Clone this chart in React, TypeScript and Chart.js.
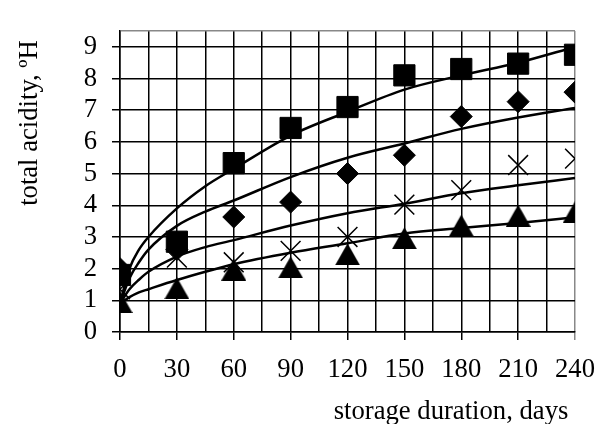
import React, { useEffect, useRef } from "react";
import { Chart, registerables } from "chart.js";

Chart.register(...registerables);

// ---- data ----
const days = [0, 30, 60, 90, 120, 150, 180, 210, 240];
const squareValues = [1.8, 2.85, 5.33, 6.44, 7.1, 8.1, 8.3, 8.47, 8.75];
const diamondValues = [2.0, 2.6, 3.63, 4.1, 5.0, 5.58, 6.8, 7.27, 7.57];
const crossValues = [1.35, 2.35, 2.2, 2.56, 3.0, 4.02, 4.48, 5.27, 5.47];
const triangleValues = [0.95, 1.38, 1.97, 2.04, 2.45, 2.96, 3.36, 3.67, 3.78];

const trendDays = [0, 5, 10, 15, 30, 45, 60, 90, 120, 150, 180, 210, 240];
const trendSquare = [0.9, 2.0, 2.6, 3.0, 3.9, 4.6, 5.15, 6.2, 6.95, 7.65, 8.1, 8.5, 9.0];
const trendDiamond = [0.9, 1.7, 2.2, 2.6, 3.35, 3.8, 4.15, 4.89, 5.5, 5.95, 6.41, 6.77, 7.07];
const trendCross = [0.9, 1.35, 1.65, 1.9, 2.38, 2.68, 2.9, 3.36, 3.75, 4.05, 4.38, 4.63, 4.86];
const trendTriangle = [0.9, 1.1, 1.25, 1.35, 1.64, 1.9, 2.14, 2.5, 2.8, 3.11, 3.28, 3.44, 3.62];

const xTicks = [0, 15, 30, 45, 60, 75, 90, 105, 120, 135, 150, 165, 180, 195, 210, 225, 240];
const xLabelStep = 30;
const yTicks = [0, 1, 2, 3, 4, 5, 6, 7, 8, 9];
const yMax = 9.5;
const xMax = 240;
const xTitle = "storage duration, days";
const yTitle = "total acidity, ºH";

const FONT = '"Liberation Serif", "Times New Roman", serif';
const FONT_SIZE = 26.67;

const pts = (xs: number[], ys: number[]) => xs.map((x, i) => ({ x, y: ys[i] }));

export default function App() {
  const ref = useRef<HTMLCanvasElement | null>(null);

  useEffect(() => {
    if (!ref.current) return;

    const tri = document.createElement("canvas");
    tri.width = 25;
    tri.height = 22;
    const tc = tri.getContext("2d")!;
    tc.fillStyle = "#000";
    tc.beginPath();
    tc.moveTo(12.5, 0);
    tc.lineTo(25, 22);
    tc.lineTo(0, 22);
    tc.closePath();
    tc.fill();

    const titlePlugin = {
      id: "axisTitles",
      afterDraw(chart: any) {
        const { ctx, chartArea } = chart;
        ctx.save();
        ctx.font = `${FONT_SIZE}px ${FONT}`;
        ctx.fillStyle = "#000";
        ctx.textAlign = "center";
        ctx.textBaseline = "middle";
        ctx.fillText(xTitle, chartArea.right - 124, chartArea.bottom + 80);
        ctx.translate(30, chartArea.top + 92);
        ctx.rotate(-Math.PI / 2);
        ctx.fillText(yTitle, 0, 0);
        ctx.restore();
      },
    };

    const markerBase = { showLine: false, backgroundColor: "#000", borderColor: "#000" };
    const lineBase = {
      showLine: true,
      pointRadius: 0,
      borderColor: "#000",
      borderWidth: 2.5,
      fill: false,
      cubicInterpolationMode: "monotone" as const,
    };

    const chart = new Chart(ref.current, {
      type: "scatter",
      data: {
        datasets: [
          { ...markerBase, data: pts(days, squareValues), pointStyle: "rect", pointRadius: 15, borderWidth: 1 },
          { ...markerBase, data: pts(days, diamondValues), pointStyle: "rectRot", pointRadius: 11, borderWidth: 1 },
          { ...markerBase, data: pts(days, crossValues), pointStyle: "crossRot", pointRadius: 14, borderWidth: 1.5 },
          { ...markerBase, data: pts(days, triangleValues), pointStyle: tri as any, pointRadius: 12, borderWidth: 0 },
          { ...lineBase, data: pts(trendDays, trendSquare) },
          { ...lineBase, data: pts(trendDays, trendDiamond) },
          { ...lineBase, data: pts(trendDays, trendCross) },
          { ...lineBase, data: pts(trendDays, trendTriangle) },
        ] as any,
      },
      options: {
        animation: false,
        responsive: false,
        events: [],
        layout: { padding: { top: 22, right: 30, left: 0, bottom: 0 } },
        plugins: { legend: { display: false }, tooltip: { enabled: false } },
        scales: {
          x: {
            type: "linear",
            min: 0,
            max: xMax,
            afterBuildTicks: (scale: any) => {
              scale.ticks = xTicks.map((v) => ({ value: v }));
            },
            afterFit: (scale: any) => {
              scale.height = 92;
            },
            ticks: {
              autoSkip: false,
              maxRotation: 0,
              padding: 14,
              color: "#000",
              font: { family: FONT, size: FONT_SIZE },
              callback: (v: any) => (Number(v) % xLabelStep === 0 ? String(v) : ""),
            },
            grid: {
              lineWidth: 1.5,
              tickLength: 8,
              color: (c: any) => (c.tick && c.tick.value === xMax ? "#888" : "#000"),
              tickColor: (c: any) =>
                c.tick && c.tick.value % xLabelStep === 0 ? (c.tick.value === xMax ? "#888" : "#000") : "rgba(0,0,0,0)",
            },
            border: { display: true, color: "#000", width: 1.5 },
          },
          y: {
            type: "linear",
            min: 0,
            max: yMax,
            afterBuildTicks: (scale: any) => {
              scale.ticks = [...yTicks, yMax].map((v) => ({ value: v }));
            },
            afterFit: (scale: any) => {
              scale.width = 120;
            },
            ticks: {
              autoSkip: false,
              padding: 15,
              color: "#000",
              font: { family: FONT, size: FONT_SIZE },
              callback: (v: any) => (Number(v) === yMax ? "" : String(v)),
            },
            grid: {
              lineWidth: 1.5,
              tickLength: 8,
              color: (c: any) => (c.tick && c.tick.value === yMax ? "#888" : "#000"),
              tickColor: (c: any) => (c.tick && c.tick.value === yMax ? "rgba(0,0,0,0)" : "#000"),
            },
            border: { display: true, color: "#000", width: 1.5 },
          },
        },
      } as any,
      plugins: [titlePlugin],
    });

    return () => chart.destroy();
  }, []);

  return (
    <div style={{ position: "absolute", left: 0, top: 0, width: 609, height: 424, background: "#fff" }}>
      <canvas ref={ref} width={609} height={424} style={{ display: "block" }} />
    </div>
  );
}
